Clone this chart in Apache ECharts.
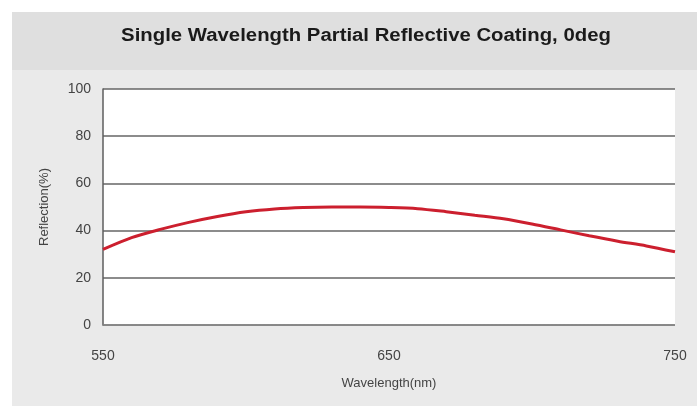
<!DOCTYPE html>
<html>
<head>
<meta charset="utf-8">
<script src="https://cdn.jsdelivr.net/npm/echarts@6/dist/echarts.min.js"></script>
<style>
  html, body { margin: 0; padding: 0; background: #ffffff; }
  #chart { width: 697px; height: 406px; }
</style>
</head>
<body>
<div id="chart"></div>
<script>
// Reflection curve of the coating, sampled every 10 nm
const wavelengths = [550, 560, 570, 580, 590, 600, 610, 620, 630, 640, 650,
                     660, 670, 680, 690, 700, 710, 720, 730, 740, 750];
const reflection = [32, 37, 40.5, 43.5, 46, 48, 49.2, 49.8, 50, 50, 49.8,
                    49.3, 48, 46.5, 45, 42.8, 40.3, 37.8, 35.5, 33.5, 31];
const xTicks = [550, 650, 750];
const yTicks = [0, 20, 40, 60, 80, 100];

const titleText = 'Single Wavelength Partial Reflective Coating, 0deg';
const font = 'Liberation Sans, Arial, sans-serif';

const chart = echarts.init(document.getElementById('chart'), null, { renderer: 'canvas' });

chart.setOption({
  animation: false,
  backgroundColor: '#ffffff',
  graphic: [
    // outer panel
    { type: 'rect', z: -10, shape: { x: 12, y: 12, width: 685, height: 394 },
      style: { fill: '#eaeaea' } },
    // title band
    { type: 'rect', z: -9, shape: { x: 12, y: 12, width: 685, height: 58 },
      style: { fill: '#dfdfdf' } },
    // plot area fill
    { type: 'rect', z: -8, shape: { x: 103, y: 89, width: 572, height: 236 },
      style: { fill: '#ffffff' } },
    // chart title, drawn slightly widened
    { type: 'text', z: 10, x: 366, y: 36, scaleX: 1.13, scaleY: 1,
      style: {
        text: titleText,
        fill: '#1a1a1a',
        font: 'bold 18px ' + font,
        align: 'center',
        verticalAlign: 'middle'
      } }
  ],
  grid: { left: 103, right: 22, top: 89, bottom: 81, containLabel: false },
  xAxis: {
    type: 'value',
    min: xTicks[0],
    max: xTicks[xTicks.length - 1],
    interval: xTicks[1] - xTicks[0],
    name: 'Wavelength(nm)',
    nameLocation: 'middle',
    nameGap: 52,
    nameTextStyle: { fontFamily: font, fontSize: 13, color: '#444' },
    axisLine: { show: true, lineStyle: { color: '#888', type: [2, 2], width: 1.5 } },
    axisTick: { show: false },
    splitLine: { show: false },
    axisLabel: { margin: 24, fontFamily: font, fontSize: 14, color: '#444' }
  },
  yAxis: {
    type: 'value',
    min: yTicks[0],
    max: yTicks[yTicks.length - 1],
    interval: yTicks[1] - yTicks[0],
    name: 'Reflection(%)',
    nameLocation: 'middle',
    nameGap: 52,
    nameTextStyle: { fontFamily: font, fontSize: 13, color: '#444' },
    axisLine: { show: true, lineStyle: { color: '#5e5e5e', width: 1.5 } },
    axisTick: { show: false },
    splitLine: { show: true, lineStyle: { color: '#666666', width: 1.5 } },
    axisLabel: { margin: 12, fontFamily: font, fontSize: 14, color: '#444' }
  },
  series: [{
    type: 'line',
    data: wavelengths.map((w, i) => [w, reflection[i]]),
    showSymbol: false,
    smooth: 0.3,
    lineStyle: { color: '#cc1f2e', width: 3 },
    z: 5
  }]
});
</script>
</body>
</html>
